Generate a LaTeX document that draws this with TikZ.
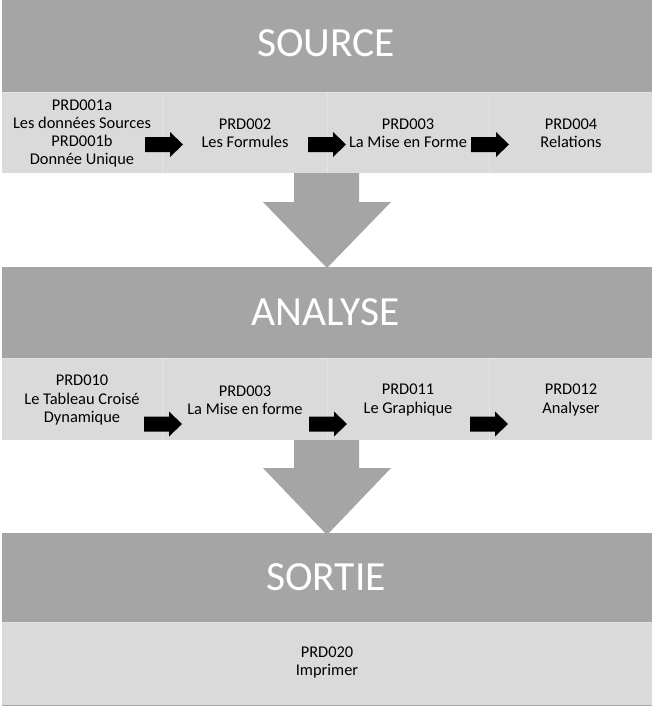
\documentclass[tikz,border=0pt]{standalone}
\usepackage{fontspec}
\setmainfont{Carlito}
\definecolor{hdr}{HTML}{A5A5A5}
\definecolor{band}{HTML}{DADADA}
\definecolor{sep}{HTML}{E4E4E4}
\begin{document}
\begin{tikzpicture}[x=1pt,y=-1pt,
  hdrbox/.style={fill=hdr, draw=none, inner sep=0pt, outer sep=0pt, minimum width=650pt, anchor=north west},
  bandbox/.style={fill=band, draw=none, inner sep=0pt, outer sep=0pt, minimum width=650pt, anchor=north west},
  hdrtext/.style={text=white, inner sep=0pt, font=\fontsize{41.5}{48}\selectfont},
  celltext/.style={text=black, inner sep=0pt, align=center, font=\fontsize{16.4}{18.2}\selectfont},
  bigarrow/.style={fill=hdr, draw=none},
  blkarrow/.style={fill=black, draw=none},
  divline/.style={draw=sep, line width=1pt}
]
\useasboundingbox (0,0) rectangle (654,706);
\fill[white] (0,0) rectangle (654,706);

% --- SOURCE ---
\node[hdrbox, minimum height=92pt] (srch) at (2,0) {};
\node[hdrtext] (srct) at (326,43) {SOURCE};
\node[bandbox, minimum height=81pt] (srcb) at (2,92) {};
\draw[divline] (2,92.5) -- (652,92.5);
\foreach \x in {162,327,489} \draw[divline] (\x,93) -- (\x,173);
\node[celltext] (s1) at (82,133.5) {PRD001a\\Les données Sources\\PRD001b\\Donnée Unique};
\node[celltext] (s2) at (245,133.5) {PRD002\\Les Formules};
\node[celltext] (s3) at (408,133.5) {PRD003\\La Mise en Forme};
\node[celltext] (s4) at (571,133.5) {PRD004\\Relations};

% --- ANALYSE ---
\node[hdrbox, minimum height=91pt] (anah) at (2,267) {};
\node[hdrtext] (anat) at (326,312) {ANALYSE};
\node[bandbox, minimum height=82pt] (anab) at (2,358) {};
\draw[divline] (2,358.5) -- (652,358.5);
\foreach \x in {162,327,489} \draw[divline] (\x,359) -- (\x,440);
\node[celltext] (a1) at (82,400) {PRD010\\Le Tableau Croisé\\Dynamique};
\node[celltext] (a2) at (245,400) {PRD003\\La Mise en forme};
\node[celltext] (a3) at (408,400) {PRD011\\Le Graphique};
\node[celltext] (a4) at (571,400) {PRD012\\Analyser};

% --- SORTIE ---
\node[hdrbox, minimum height=89pt] (sorh) at (2,533) {};
\node[hdrtext] (sort) at (326,577) {SORTIE};
\node[bandbox, minimum height=83pt] (sorb) at (2,622) {};
\draw[divline] (2,622.5) -- (652,622.5);
\draw[draw=hdr, line width=1pt] (2,705) -- (652,705);
\node[celltext] (o1) at (327,662.5) {PRD020\\Imprimer};

% --- big grey arrows ---
\coordinate (g1) at (327,268);
\fill[bigarrow] (srcb.south -| 294,0) -- (294,202) -- (263,202) -- (g1) -- (391,202) -- (359,202) -- (srcb.south -| 359,0) -- cycle;
\coordinate (g2) at (327,535);
\fill[bigarrow] (anab.south -| 294,0) -- (294,468) -- (263,468) -- (g2) -- (391,468) -- (359,468) -- (anab.south -| 359,0) -- cycle;

% --- black arrows ---
\foreach \tx/\ty/\nm in {183/144.5/b1, 346/144.5/b2, 509/144.5/b3, 182/424/b4, 347/424/b5, 508/424/b6}{
  \coordinate (\nm) at (\tx,\ty);
  \fill[blkarrow] (\nm) -- ++(-13,-12.5) -- ++(0,5) -- ++(-25,0) -- ++(0,15) -- ++(25,0) -- ++(0,5) -- cycle;
}
\end{tikzpicture}
\end{document}
